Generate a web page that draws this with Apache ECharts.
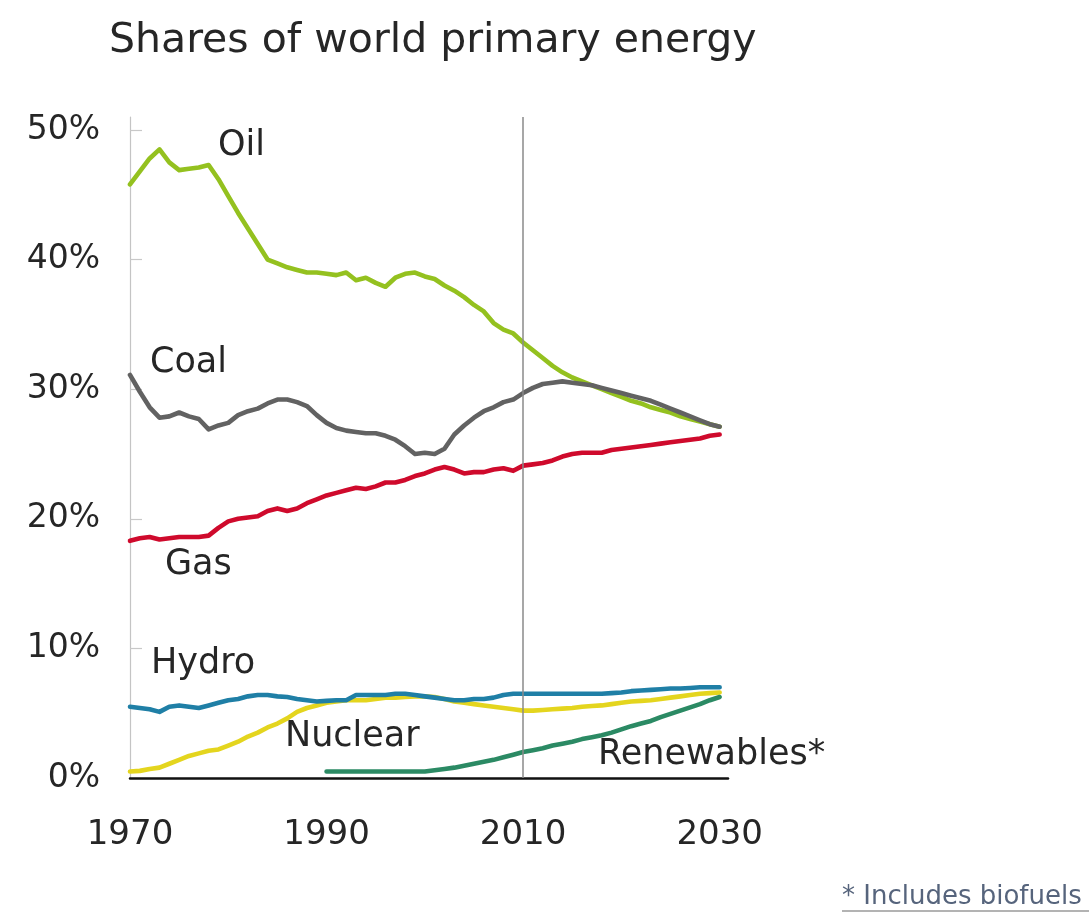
<!DOCTYPE html>
<html>
<head>
<meta charset="utf-8">
<script src="https://cdn.jsdelivr.net/npm/echarts@6/dist/echarts.min.js"></script>
<style>
html,body{margin:0;padding:0;background:#fff;}
#chart{width:1089px;height:914px;}
</style>
</head>
<body>
<div id="chart"></div>
<script>
// ---- data (shares of world primary energy, %) ----
const years = [1970,1971,1972,1973,1974,1975,1976,1977,1978,1979,1980,1981,1982,1983,1984,1985,1986,1987,1988,1989,1990,1991,1992,1993,1994,1995,1996,1997,1998,1999,2000,2001,2002,2003,2004,2005,2006,2007,2008,2009,2010,2011,2012,2013,2014,2015,2016,2017,2018,2019,2020,2021,2022,2023,2024,2025,2026,2027,2028,2029,2030];
const oil = [45.8,46.8,47.8,48.5,47.5,46.9,47.0,47.1,47.3,46.2,44.9,43.6,42.4,41.2,40.0,39.7,39.4,39.2,39.0,39.0,38.9,38.8,39.0,38.4,38.6,38.2,37.9,38.6,38.9,39.0,38.7,38.5,38.0,37.6,37.1,36.5,36.0,35.1,34.6,34.3,33.6,33.0,32.4,31.8,31.3,30.9,30.6,30.3,30.0,29.7,29.4,29.1,28.9,28.6,28.4,28.2,27.9,27.7,27.5,27.3,27.1];
const coal = [31.1,29.8,28.6,27.8,27.9,28.2,27.9,27.7,26.9,27.2,27.4,28.0,28.3,28.5,28.9,29.2,29.2,29.0,28.7,28.0,27.4,27.0,26.8,26.7,26.6,26.6,26.4,26.1,25.6,25.0,25.1,25.0,25.4,26.5,27.2,27.8,28.3,28.6,29.0,29.2,29.7,30.1,30.4,30.5,30.6,30.5,30.4,30.3,30.1,29.9,29.7,29.5,29.3,29.1,28.8,28.5,28.2,27.9,27.6,27.3,27.1];
const gas = [18.3,18.5,18.6,18.4,18.5,18.6,18.6,18.6,18.7,19.3,19.8,20.0,20.1,20.2,20.6,20.8,20.6,20.8,21.2,21.5,21.8,22.0,22.2,22.4,22.3,22.5,22.8,22.8,23.0,23.3,23.5,23.8,24.0,23.8,23.5,23.6,23.6,23.8,23.9,23.7,24.1,24.2,24.3,24.5,24.8,25.0,25.1,25.1,25.1,25.3,25.4,25.5,25.6,25.7,25.8,25.9,26.0,26.1,26.2,26.4,26.5];
const hydro = [5.5,5.4,5.3,5.1,5.5,5.6,5.5,5.4,5.6,5.8,6.0,6.1,6.3,6.4,6.4,6.3,6.25,6.1,6.0,5.9,5.95,6.0,6.0,6.4,6.4,6.4,6.4,6.5,6.5,6.4,6.3,6.2,6.1,6.0,6.0,6.1,6.1,6.2,6.4,6.5,6.5,6.5,6.5,6.5,6.5,6.5,6.5,6.5,6.5,6.55,6.6,6.7,6.75,6.8,6.85,6.9,6.9,6.95,7.0,7.0,7.0];
const nuclear = [0.5,0.55,0.7,0.8,1.1,1.4,1.7,1.9,2.1,2.2,2.5,2.8,3.2,3.5,3.9,4.2,4.6,5.1,5.4,5.6,5.8,5.9,6.0,6.0,6.0,6.1,6.2,6.2,6.25,6.3,6.3,6.25,6.1,5.9,5.8,5.7,5.6,5.5,5.4,5.3,5.2,5.2,5.25,5.3,5.35,5.4,5.5,5.55,5.6,5.7,5.8,5.9,5.95,6.0,6.1,6.2,6.3,6.4,6.5,6.55,6.6];
const renewables = [null,null,null,null,null,null,null,null,null,null,null,null,null,null,null,null,null,null,null,null,0.5,0.5,0.5,0.5,0.5,0.5,0.5,0.5,0.5,0.5,0.5,0.6,0.7,0.8,0.95,1.1,1.25,1.4,1.6,1.8,2.0,2.15,2.3,2.5,2.65,2.8,3.0,3.15,3.3,3.5,3.75,4.0,4.2,4.4,4.7,4.95,5.2,5.45,5.7,6.0,6.25];
const xTicks = [1970,1990,2010,2030];
const yTicks = [0,10,20,30,40,50];
const dividerYear = [2010];
const title = 'Shares of world primary energy';
const footnote = '* Includes biofuels';

const FONT = '"DejaVu Sans", "Liberation Sans", sans-serif';
const TXT = '#262626';

function pairs(vals){ return years.map((y,i)=>[y, vals[i]]); }
function line(name, vals, color, extra){
  return Object.assign({
    name, type:'line', data: pairs(vals), showSymbol:false, symbol:'none',
    connectNulls:false, silent:true,
    lineStyle:{color, width:4.6, join:'round', cap:'round'},
    itemStyle:{color}
  }, extra||{});
}

const chart = echarts.init(document.getElementById('chart'), null, {renderer:'canvas'});
function label(text, x, cy, size){
  return {type:'text', x:x, y:cy, silent:true,
    style:{text, fill:TXT, fontSize:size, fontFamily:FONT, align:'left', verticalAlign:'middle', textAlign:'left', textVerticalAlign:'middle'}};
}
chart.setOption({
  animation:false,
  backgroundColor:'#fff',
  grid:{left:130, right:361, top:117, bottom:136, containLabel:false},
  xAxis:{
    type:'value', min:1970, max:2030.85,
    splitLine:{show:false},
    axisLine:{show:true, onZero:false, lineStyle:{color:'#111', width:2.5}},
    axisTick:{show:false},
    axisLabel:{customValues:xTicks, fontSize:34, fontFamily:FONT, color:TXT, margin:40, formatter:v=>String(v)}
  },
  yAxis:{
    type:'value', min:0, max:51,
    splitLine:{show:false},
    axisLine:{show:true, lineStyle:{color:'#c4c4c4', width:1.2}},
    axisTick:{show:true, inside:true, length:12, customValues:yTicks.slice(1), lineStyle:{color:'#c8c8c8', width:1.2}},
    axisLabel:{customValues:yTicks, fontSize:33, fontFamily:FONT, color:TXT, margin:30, formatter:v=>v+'%'}
  },
  series:[
    line('Oil', oil, '#94c11f'),
    line('Coal', coal, '#626262'),
    line('Gas', gas, '#cf0a2c'),
    line('Nuclear', nuclear, '#e4d51e'),
    line('Hydro', hydro, '#1f7fa6'),
    line('Renewables', renewables, '#2b8a64', {
      markLine:{silent:true, symbol:'none', label:{show:false},
        lineStyle:{color:'#8a8a8a', width:1.5, type:'solid'},
        data: dividerYear.map(y=>({xAxis:y}))}
    })
  ],
  graphic:[
    {type:'text', x:109, y:41, silent:true, style:{text:title, fill:TXT, fontSize:41, fontFamily:FONT, align:'left', verticalAlign:'middle', textAlign:'left', textVerticalAlign:'middle'}},
    label('Oil', 218, 146, 35),
    label('Coal', 150, 363, 35),
    label('Gas', 165, 565, 35),
    label('Hydro', 151, 664, 35),
    label('Nuclear', 285, 737, 35),
    label('Renewables*', 598, 755, 35),
    {type:'text', x:842, y:897, silent:true, style:{text:footnote, fill:'#56647c', fontSize:26, fontFamily:FONT, align:'left', verticalAlign:'middle', textAlign:'left', textVerticalAlign:'middle'}},
    {type:'line', silent:true, shape:{x1:842, y1:911, x2:1089, y2:911}, style:{stroke:'#9a9a9a', lineWidth:1.5}}
  ]
});
</script>
</body>
</html>
